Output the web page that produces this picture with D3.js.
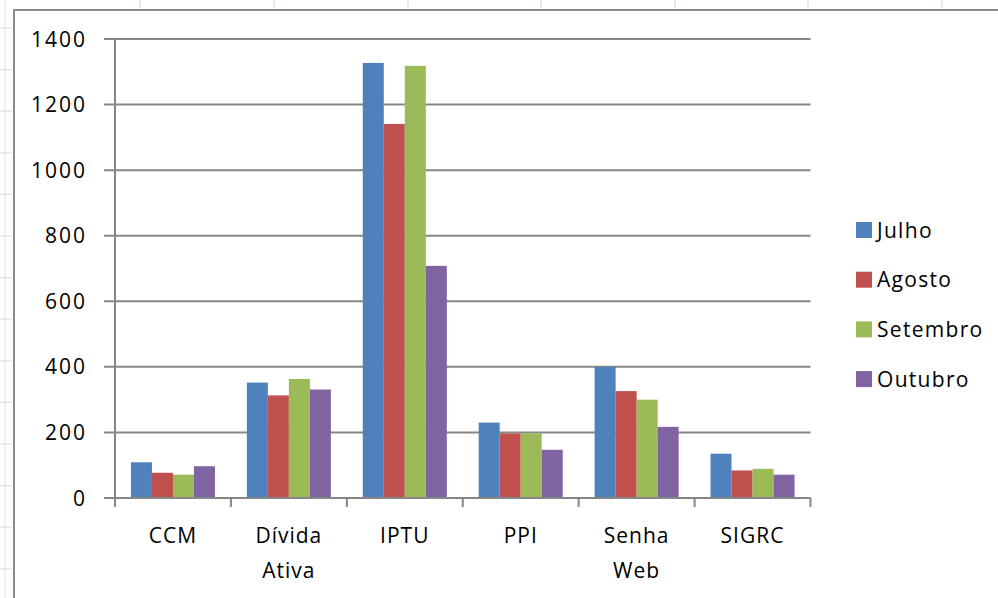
<!DOCTYPE html>
<html><head><meta charset="utf-8">
<script src="https://cdn.jsdelivr.net/npm/d3@7/dist/d3.min.js"></script>
<style>
html,body{margin:0;padding:0;background:#fff;}
svg{display:block;}
text{font-family:"Open Sans","Liberation Sans",sans-serif;fill:#000;}
</style></head>
<body>
<svg id="chart" width="998" height="598"></svg>
<script>
const categories = [["CCM"], ["Dívida","Ativa"], ["IPTU"], ["PPI"], ["Senha","Web"], ["SIGRC"]];
const seriesNames = ["Julho", "Agosto", "Setembro", "Outubro"];
const julho    = [109, 352, 1327, 230, 400, 135];
const agosto   = [77, 313, 1141, 197, 326, 84];
const setembro = [71, 363, 1318, 197, 300, 89];
const outubro  = [97, 331, 708, 147, 217, 71];
const yTicks = [0, 200, 400, 600, 800, 1000, 1200, 1400];
const colors = ["#4F81BD", "#C0504D", "#9BBB59", "#8064A2"];

(function () {
const seriesValues = [julho, agosto, setembro, outubro];
const svg = d3.select("#chart");

// spreadsheet background decoration
const deco = svg.append("g");
[140, 274, 408, 541, 675, 808, 942].forEach(x => deco.append("line").attr("x1", x).attr("x2", x).attr("y1", 0).attr("y2", 8).attr("stroke", "#d0dbee").attr("stroke-width", 1.2));
deco.append("line").attr("x1", 5).attr("x2", 5).attr("y1", 0).attr("y2", 598).attr("stroke", "#e3e9f4").attr("stroke-width", 1.5);
for (let yy = 28; yy < 598; yy += 41.6) deco.append("line").attr("x1", 0).attr("x2", 12).attr("y1", yy).attr("y2", yy).attr("stroke", "#d8e0ef").attr("stroke-width", 1.2);
// chart border
svg.append("path").attr("d", "M14,598 L14,10 L998,10").attr("fill", "none").attr("stroke", "#8c8c8c").attr("stroke-width", 2);

const pLeft = 115, pRight = 810.5, pTop = 39, pBottom = 498;
const x0 = d3.scaleBand().domain(d3.range(categories.length)).range([pLeft, pRight]).paddingInner(0.275).paddingOuter(0.1375);
const x1 = d3.scaleBand().domain(d3.range(seriesNames.length)).range([0, x0.bandwidth()]);
const y = d3.scaleLinear().domain([0, 1400]).range([pBottom, pTop]);

// gridlines
svg.append("g").selectAll("line").data(yTicks).join("line")
  .attr("x1", pLeft - 11).attr("x2", pRight).attr("y1", d => y(d)).attr("y2", d => y(d))
  .attr("stroke", "#868686").attr("stroke-width", 2);

// y-axis labels
svg.append("g").selectAll("text").data(yTicks).join("text")
  .attr("x", 87).attr("y", d => y(d)).attr("dy", "0.36em").attr("text-anchor", "end")
  .attr("font-size", 21).attr("letter-spacing", 2).text(d => d);

// bars
const groups = svg.append("g").selectAll("g").data(categories).join("g")
  .attr("transform", (d, i) => `translate(${x0(i)},0)`);
groups.selectAll("rect").data((d, i) => seriesValues.map((s, k) => ({k, v: s[i]}))).join("rect")
  .attr("x", d => x1(d.k)).attr("width", x1.bandwidth())
  .attr("y", d => y(d.v)).attr("height", d => y(0) - y(d.v))
  .attr("fill", d => colors[d.k]);

// axes lines
svg.append("line").attr("x1", pLeft).attr("x2", pLeft).attr("y1", pTop).attr("y2", pBottom + 9).attr("stroke", "#868686").attr("stroke-width", 2);
svg.append("line").attr("x1", pLeft).attr("x2", pRight).attr("y1", pBottom).attr("y2", pBottom).attr("stroke", "#868686").attr("stroke-width", 2);
const step = (pRight - pLeft) / categories.length;
svg.append("g").selectAll("line").data(d3.range(categories.length + 1)).join("line")
  .attr("x1", i => pLeft + i * step).attr("x2", i => pLeft + i * step)
  .attr("y1", pBottom).attr("y2", pBottom + 9).attr("stroke", "#868686").attr("stroke-width", 2);

// category labels
svg.append("g").selectAll("text").data(categories).join("text")
  .attr("x", (d, i) => pLeft + (i + 0.5) * step).attr("y", 543)
  .attr("text-anchor", "middle").attr("font-size", 21).attr("letter-spacing", 1)
  .each(function(d) {
    const t = d3.select(this);
    d.forEach((line, j) => t.append("tspan").attr("x", t.attr("x")).attr("dy", j === 0 ? 0 : 35).text(line));
  });

// legend
const lg = svg.append("g").selectAll("g").data(seriesNames).join("g")
  .attr("transform", (d, i) => `translate(856,${230 + i * 49.7})`);
lg.append("rect").attr("x", 0).attr("y", -8).attr("width", 16).attr("height", 16).attr("fill", (d, i) => colors[i]);
lg.append("text").attr("x", 21).attr("y", 0).attr("dy", "0.36em").attr("font-size", 21).attr("letter-spacing", 1.3).text(d => d);
})();
</script>
</body></html>
